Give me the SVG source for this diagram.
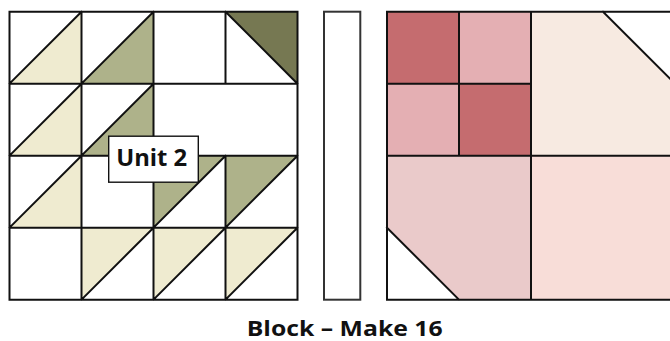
<svg xmlns="http://www.w3.org/2000/svg" width="670" height="341" viewBox="0 0 670 341">
<style>
.ln{fill:none;stroke:#111;stroke-width:2;stroke-linecap:square}
.cream{fill:#efebd0}
.sage{fill:#aeb28a}
.olive{fill:#767852}
.lbl{font-family:"Open Sans","DejaVu Sans",sans-serif;font-weight:700;fill:#111;text-anchor:middle}
</style>
<rect width="670" height="341" fill="#fff"/>
<g id="unit2-grid">
<rect x="9.5" y="11.7" width="288" height="288" fill="#fff"/>
<polygon class="cream" points="81.5,11.7 81.5,83.7 9.5,83.7"/>
<polygon class="sage" points="153.5,11.7 153.5,83.7 81.5,83.7"/>
<polygon class="olive" points="225.5,11.7 297.5,11.7 297.5,83.7"/>
<polygon class="cream" points="81.5,83.7 81.5,155.7 9.5,155.7"/>
<polygon class="sage" points="153.5,83.7 153.5,155.7 81.5,155.7"/>
<polygon class="cream" points="81.5,155.7 81.5,227.7 9.5,227.7"/>
<polygon class="sage" points="153.5,155.7 225.5,155.7 153.5,227.7"/>
<polygon class="sage" points="225.5,155.7 297.5,155.7 225.5,227.7"/>
<polygon class="cream" points="81.5,227.7 153.5,227.7 81.5,299.7"/>
<polygon class="cream" points="153.5,227.7 225.5,227.7 153.5,299.7"/>
<polygon class="cream" points="225.5,227.7 297.5,227.7 225.5,299.7"/>
<path class="ln" d="M9.5,11.7H297.5V299.7H9.5Z M9.5,83.7H297.5 M9.5,155.7H297.5 M9.5,227.7H297.5 M81.5,11.7V299.7 M153.5,11.7V299.7 M225.5,11.7V83.7 M225.5,155.7V299.7 M9.5,83.7L81.5,11.7 M81.5,83.7L153.5,11.7 M225.5,11.7L297.5,83.7 M9.5,155.7L81.5,83.7 M81.5,155.7L153.5,83.7 M9.5,227.7L81.5,155.7 M153.5,227.7L225.5,155.7 M225.5,227.7L297.5,155.7 M81.5,299.7L153.5,227.7 M153.5,299.7L225.5,227.7 M225.5,299.7L297.5,227.7"/>
</g>
<g id="unit2-label">
<rect x="108.7" y="136.2" width="89.6" height="46" fill="#fff" stroke="#111" stroke-width="1.4"/>
<text class="lbl" x="151.7" y="165.7" font-size="24" textLength="71" lengthAdjust="spacingAndGlyphs">Unit 2</text>
</g>
<g id="sashing-strip">
<rect x="324" y="11.7" width="36.3" height="288" fill="#fff" stroke="#333" stroke-width="2"/>
</g>
<g id="corner-block">
<rect x="387" y="11.7" width="72" height="72" fill="#c56c6f"/>
<rect x="459" y="11.7" width="72" height="72" fill="#e4afb3"/>
<rect x="387" y="83.7" width="72" height="72" fill="#e4afb3"/>
<rect x="459" y="83.7" width="72" height="72" fill="#c56c6f"/>
<polygon points="531,11.7 603,11.7 675,83.7 675,155.7 531,155.7" fill="#f7eae1"/>
<polygon points="387,155.7 531,155.7 531,299.7 459,299.7 387,227.7" fill="#eacaca"/>
<rect x="531" y="155.7" width="144" height="144" fill="#f8ddd8"/>
<path class="ln" d="M387,11.7H675 M387,299.7H675 M387,11.7V299.7 M459,11.7V155.7 M531,11.7V299.7 M387,83.7H531 M387,155.7H675 M603,11.7L675,83.7 M387,227.7L459,299.7"/>
</g>
<text class="lbl" x="344.7" y="336" font-size="20.5" textLength="196" lengthAdjust="spacingAndGlyphs">Block – Make 16</text>
</svg>
